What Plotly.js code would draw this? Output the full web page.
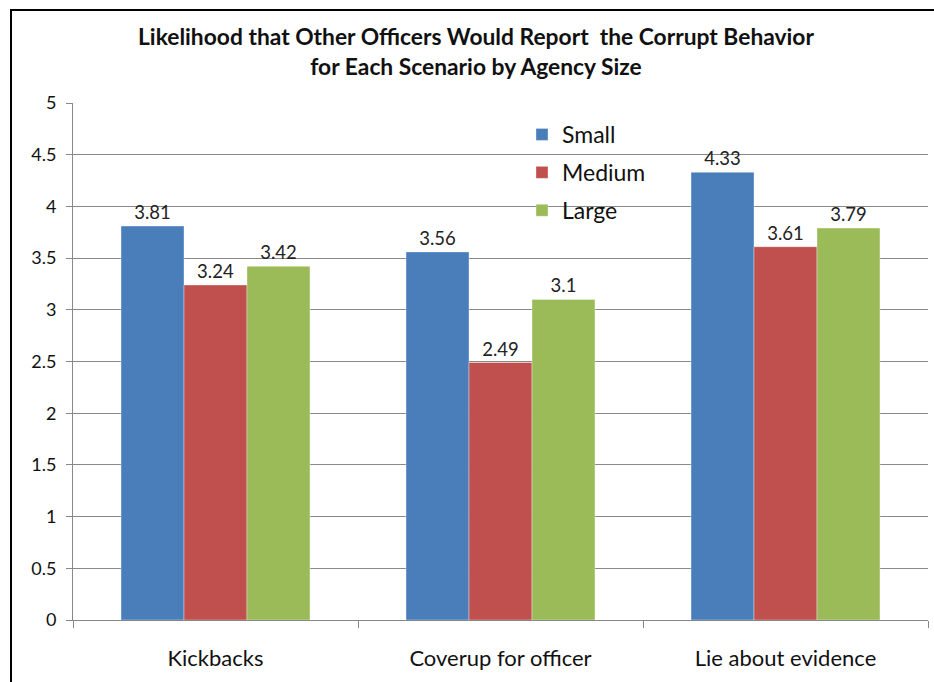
<!DOCTYPE html>
<html>
<head>
<meta charset="utf-8">
<script src="https://cdn.plot.ly/plotly-3.0.1.min.js"></script>
<style>
  html, body { margin: 0; padding: 0; background: #fff; }
  #wrap { position: relative; width: 934px; height: 682px; overflow: hidden; }
  #chart { position: absolute; left: 0; top: 0; width: 934px; height: 682px; }
  #frame { position: absolute; left: 10px; top: 9px; width: 1000px; height: 800px;
           border-left: 2px solid #000; border-top: 2px solid #000; pointer-events: none; }
</style>
</head>
<body>
<div id="wrap">
  <div id="chart"></div>
  <div id="frame"></div>
</div>
<script>
// Scenarios on the x axis
const scenarios = ["Kickbacks", "Coverup for officer", "Lie about evidence"];

// Mean likelihood ratings by agency size
const small  = [3.81, 3.56, 4.33];
const medium = [3.24, 2.49, 3.61];
const large  = [3.42, 3.10, 3.79];

// Value labels as printed above each bar
const smallLabels  = ["3.81", "3.56", "4.33"];
const mediumLabels = ["3.24", "2.49", "3.61"];
const largeLabels  = ["3.42", "3.1", "3.79"];

const yTicks = [0, 0.5, 1, 1.5, 2, 2.5, 3, 3.5, 4, 4.5, 5];
const yTickText = ["0", "0.5", "1", "1.5", "2", "2.5", "3", "3.5", "4", "4.5", "5"];

const FONT = "Lato, 'Open Sans', sans-serif";

function series(name, values, labels, color, group) {
  return {
    type: "bar",
    name: name,
    x: scenarios,
    y: values,
    text: labels,
    texttemplate: "%{text}",
    textposition: "outside",
    cliponaxis: false,
    textfont: { family: FONT, size: 18.5, color: "#222" },
    marker: { color: color, line: { color: "rgba(255,255,255,0.35)", width: 1 } },
    legendgroup: group,
    hoverinfo: "x+y+name"
  };
}

const data = [
  series("Small",  small,  smallLabels,  "#4a7ebb", "a"),
  series("Medium", medium, mediumLabels, "#c0504d", "b"),
  series("Large",  large,  largeLabels,  "#9bbb59", "c")
];

const layout = {
  width: 934,
  height: 682,
  margin: { l: 73, r: 6, t: 103, b: 62, autoexpand: false },
  paper_bgcolor: "#fff",
  plot_bgcolor: "#fff",
  barmode: "group",
  bargap: 0.337,
  bargroupgap: 0,
  font: { family: FONT, color: "#111" },
  title: {
    text: "<b>Likelihood that Other Officers Would Report  the Corrupt Behavior<br>for Each Scenario by Agency Size</b>",
    font: { family: FONT, size: 22.8, color: "#111" },
    x: 476 / 934,
    xref: "container",
    xanchor: "center",
    y: 1 - 45 / 682,
    yref: "container",
    yanchor: "middle"
  },
  xaxis: {
    type: "category",
    showline: true,
    linecolor: "#888",
    linewidth: 1,
    ticks: "outside",
    tickson: "boundaries",
    ticklen: 7,
    tickcolor: "#888",
    showgrid: false,
    tickangle: 0,
    tickfont: { family: FONT, size: 22, color: "#111" },
    ticklabelstandoff: 19
  },
  yaxis: {
    range: [0, 5],
    tickvals: yTicks,
    ticktext: yTickText,
    showline: true,
    linecolor: "#888",
    linewidth: 1,
    ticks: "outside",
    ticklen: 6,
    tickcolor: "#888",
    showgrid: true,
    gridcolor: "#888",
    gridwidth: 1,
    zeroline: false,
    tickfont: { family: FONT, size: 18, color: "#111" },
    ticklabelstandoff: 6
  },
  showlegend: true,
  legend: {
    x: (522 - 73) / 855,
    xref: "paper",
    xanchor: "left",
    y: (620 - 113) / 517,
    yref: "paper",
    yanchor: "top",
    bgcolor: "rgba(0,0,0,0)",
    borderwidth: 0,
    font: { family: FONT, size: 23, color: "#111" },
    traceorder: "grouped",
    tracegroupgap: 5,
    itemwidth: 30
  }
};

Plotly.newPlot("chart", data, layout, { displayModeBar: false, responsive: false });
</script>
</body>
</html>
